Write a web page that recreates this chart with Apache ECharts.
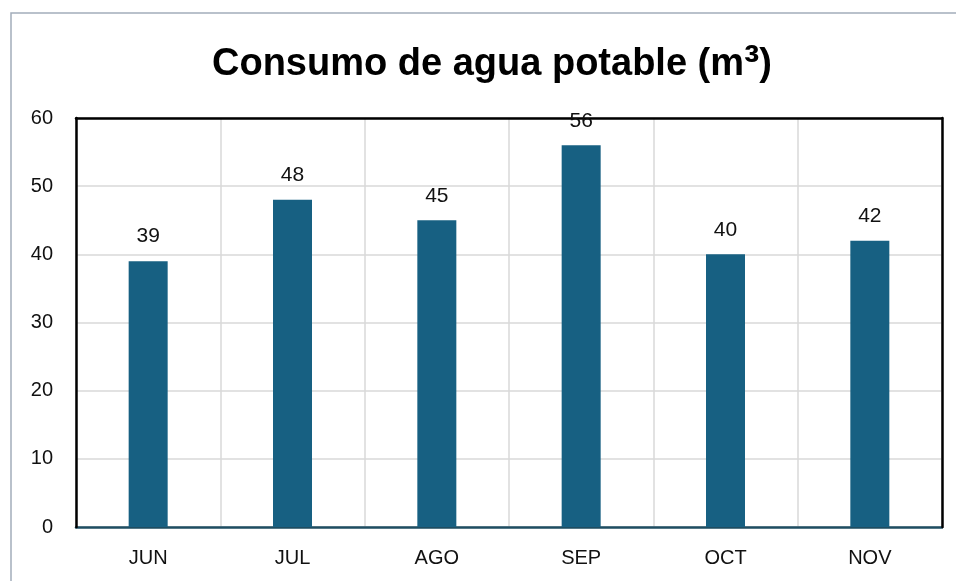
<!DOCTYPE html>
<html><head><meta charset="utf-8">
<script src="https://cdn.jsdelivr.net/npm/echarts@6/dist/echarts.min.js"></script>
<style>html,body{margin:0;padding:0;background:#fff}#c{width:956px;height:581px}</style>
</head><body><div id="c"></div>
<script>
const categories = ["JUN","JUL","AGO","SEP","OCT","NOV"];
const values = [39,48,45,56,40,42];
const yTicks = {min:0,max:60,interval:10};
const titleMain = "Consumo de agua potable (m";
const titleSup = "³";
const titleEnd = ")";

const chart = echarts.init(document.getElementById('c'), null, {renderer:'canvas'});
const frameAxis = (pos, extra) => Object.assign({position:pos,
  axisLine:{show:true,onZero:false,lineStyle:{color:'#000',width:2.5}},
  axisTick:{show:false},axisLabel:{show:false},splitLine:{show:false},z:9}, extra);
const yScale = {type:'value',min:yTicks.min,max:yTicks.max,interval:yTicks.interval};
chart.setOption({
  backgroundColor:'#fff',
  animation:false,
  textStyle:{fontFamily:'Liberation Sans'},
  graphic:[{type:'rect',shape:{x:11,y:13,width:1000,height:1000},style:{fill:'none',stroke:'#a3adba',lineWidth:1.5},z:-1}],
  title:{text:titleMain + '{sup|' + titleSup + '}' + titleEnd,left:487,top:37,textAlign:'center',
    textStyle:{fontSize:38,fontWeight:'bold',color:'#000',fontFamily:'Liberation Sans',
      rich:{sup:{fontSize:46,fontWeight:'bold',color:'#000',fontFamily:'Liberation Sans'}}}},
  grid:{left:76,top:118,width:866,height:409,show:false},
  xAxis:[{type:'category',data:categories,position:'bottom',
    axisLine:{show:true,lineStyle:{color:'#1e4d62',width:2.5}},
    axisTick:{show:false},
    splitLine:{show:true,lineStyle:{color:'#d9d9d9',width:1.5}},
    axisLabel:{fontSize:20,color:'#111',margin:21},z:5},
    frameAxis('top',{type:'category',data:categories})],
  yAxis:[Object.assign({},yScale,{position:'left',
    axisLine:{show:false},axisTick:{show:false},
    splitLine:{lineStyle:{color:'#d9d9d9',width:1.5}},
    axisLabel:{fontSize:20,color:'#111',margin:23},z:1}),
    frameAxis('right',Object.assign({},yScale)),
    frameAxis('left',Object.assign({},yScale,{offset:0}))],
  series:[{type:'bar',data:values,barWidth:39,
    itemStyle:{color:'#176082'},
    label:{show:true,position:'top',distance:14,fontSize:21,color:'#111'},z:10}]
});
</script></body></html>
